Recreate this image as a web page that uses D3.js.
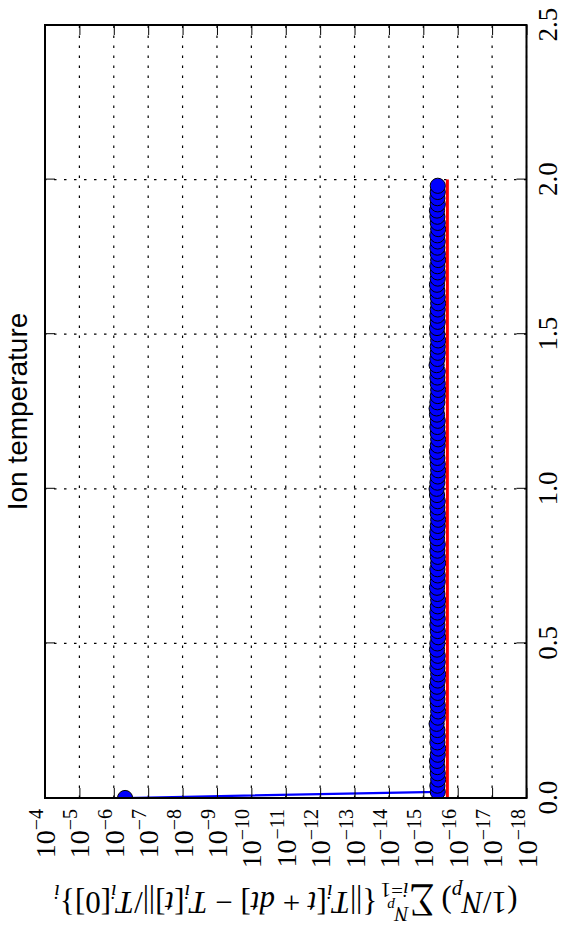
<!DOCTYPE html>
<html>
<head>
<meta charset="utf-8">
<script src="https://cdn.jsdelivr.net/npm/d3@7"></script>
<style>
body { margin: 0; background: #fff; }
</style>
</head>
<body>
<svg id="chart" width="563" height="928"></svg>
<script>
// time of each sample
var times = [
    0.00, 0.02, 0.04, 0.06, 0.08, 0.10, 0.12, 0.14, 0.16, 0.18,
    0.20, 0.22, 0.24, 0.26, 0.28, 0.30, 0.32, 0.34, 0.36, 0.38,
    0.40, 0.42, 0.44, 0.46, 0.48, 0.50, 0.52, 0.54, 0.56, 0.58,
    0.60, 0.62, 0.64, 0.66, 0.68, 0.70, 0.72, 0.74, 0.76, 0.78,
    0.80, 0.82, 0.84, 0.86, 0.88, 0.90, 0.92, 0.94, 0.96, 0.98,
    1.00, 1.02, 1.04, 1.06, 1.08, 1.10, 1.12, 1.14, 1.16, 1.18,
    1.20, 1.22, 1.24, 1.26, 1.28, 1.30, 1.32, 1.34, 1.36, 1.38,
    1.40, 1.42, 1.44, 1.46, 1.48, 1.50, 1.52, 1.54, 1.56, 1.58,
    1.60, 1.62, 1.64, 1.66, 1.68, 1.70, 1.72, 1.74, 1.76, 1.78,
    1.80, 1.82, 1.84, 1.86, 1.88, 1.90, 1.92, 1.94, 1.96, 1.98
];

// relative change of the ion temperature per step
var errors = [
    4.7e-7, 3.8e-16, 3.9e-16, 3.7e-16, 3.8e-16, 3.9e-16, 4.0e-16, 3.8e-16, 3.7e-16, 3.9e-16,
    3.8e-16, 3.9e-16, 4.1e-16, 3.8e-16, 3.7e-16, 3.8e-16, 3.9e-16, 3.8e-16, 4.0e-16, 3.8e-16,
    3.7e-16, 3.9e-16, 3.8e-16, 3.8e-16, 4.0e-16, 3.9e-16, 3.7e-16, 3.8e-16, 3.9e-16, 3.8e-16,
    3.9e-16, 3.8e-16, 3.7e-16, 3.9e-16, 4.0e-16, 3.8e-16, 3.8e-16, 3.9e-16, 3.7e-16, 3.8e-16,
    3.9e-16, 3.8e-16, 4.0e-16, 3.9e-16, 3.8e-16, 3.7e-16, 3.8e-16, 3.9e-16, 3.8e-16, 4.0e-16,
    4.1e-16, 3.9e-16, 3.8e-16, 3.7e-16, 3.8e-16, 3.9e-16, 4.0e-16, 3.8e-16, 3.7e-16, 3.8e-16,
    3.9e-16, 3.8e-16, 4.0e-16, 4.1e-16, 3.9e-16, 3.8e-16, 3.7e-16, 3.8e-16, 3.9e-16, 3.8e-16,
    4.1e-16, 3.9e-16, 3.8e-16, 3.8e-16, 3.7e-16, 3.9e-16, 4.0e-16, 3.8e-16, 3.9e-16, 3.8e-16,
    3.7e-16, 3.8e-16, 3.9e-16, 4.0e-16, 3.8e-16, 3.8e-16, 3.9e-16, 3.7e-16, 3.8e-16, 3.9e-16,
    3.8e-16, 3.9e-16, 3.7e-16, 3.8e-16, 3.9e-16, 4.0e-16, 3.8e-16, 3.9e-16, 3.8e-16, 3.8e-16
];

// red reference level
var refTimes = [0.0, 2.0];
var refErrors = [2.0e-16, 2.0e-16];

var timeTicks = [0.0, 0.5, 1.0, 1.5, 2.0, 2.5];
var timeTickLabels = ["0.0", "0.5", "1.0", "1.5", "2.0", "2.5"];
var decadeExponents = [-4, -5, -6, -7, -8, -9, -10, -11, -12, -13, -14, -15, -16, -17, -18];

// the plot is laid out upright (928 wide, 563 tall) and then turned a quarter turn
var W = 928;
var plotLeft = 130, plotRight = 903, plotTop = 45, plotBottom = 526.5;
var serif = "'Liberation Serif', 'DejaVu Serif', serif";

var svg = d3.select('#chart');
var g = svg.append('g').attr('transform', 'translate(0,' + W + ') rotate(-90)');

var x = d3.scaleLinear([0, 2.5], [plotLeft, plotRight]);
var y = d3.scaleLog([1e-18, 1e-4], [plotBottom, plotTop]);
var decades = decadeExponents.map(e => Math.pow(10, e));

g.append('clipPath').attr('id', 'plot-clip')
    .append('rect')
    .attr('x', plotLeft).attr('y', plotTop)
    .attr('width', plotRight - plotLeft).attr('height', plotBottom - plotTop);

// grid
var grid = g.append('g').attr('stroke', '#000').attr('stroke-width', 1.2)
    .attr('stroke-dasharray', '2.5,7.5');
grid.selectAll('.gx').data(timeTicks).enter().append('line')
    .attr('x1', d => x(d)).attr('x2', d => x(d))
    .attr('y1', plotBottom).attr('y2', plotTop);
grid.selectAll('.gy').data(decades).enter().append('line')
    .attr('x1', plotLeft).attr('x2', plotRight)
    .attr('y1', d => y(d)).attr('y2', d => y(d));

// data
var plot = g.append('g').attr('clip-path', 'url(#plot-clip)');
var points = times.map((t, i) => [t, errors[i]]);

plot.append('path')
    .datum(points)
    .attr('fill', 'none')
    .attr('stroke', '#0000ff')
    .attr('stroke-width', 2.2)
    .attr('d', d3.line().x(d => x(d[0])).y(d => y(d[1])));

plot.selectAll('circle').data(points).enter().append('circle')
    .attr('cx', d => x(d[0]))
    .attr('cy', d => y(d[1]))
    .attr('r', 7.6)
    .attr('fill', '#0000ff')
    .attr('stroke', '#000')
    .attr('stroke-width', 1);

plot.append('path')
    .datum(refTimes.map((t, i) => [t, refErrors[i]]))
    .attr('fill', 'none')
    .attr('stroke', '#ff0000')
    .attr('stroke-width', 3)
    .attr('d', d3.line().x(d => x(d[0])).y(d => y(d[1])));

// axes, ticks pointing inward on all four sides
var xAxis = d3.axisBottom(x).tickValues(timeTicks)
    .tickFormat((d, i) => timeTickLabels[i])
    .tickSizeInner(-10).tickSizeOuter(0).tickPadding(0);
var xg = g.append('g').attr('transform', 'translate(0,' + plotBottom + ')').call(xAxis);
xg.selectAll('text')
    .attr('y', 30.5)
    .attr('dy', 0)
    .style('font-family', serif)
    .style('font-size', '27px')
    .attr('fill', '#000');

g.append('g').attr('transform', 'translate(0,' + plotTop + ')')
    .call(d3.axisTop(x).tickValues(timeTicks).tickFormat('')
        .tickSizeInner(-10).tickSizeOuter(0));

g.append('g').attr('transform', 'translate(' + plotLeft + ',0)')
    .call(d3.axisLeft(y).tickValues(decades).tickFormat('')
        .tickSizeInner(-10).tickSizeOuter(0));
g.append('g').attr('transform', 'translate(' + plotRight + ',0)')
    .call(d3.axisRight(y).tickValues(decades).tickFormat('')
        .tickSizeInner(-10).tickSizeOuter(0));

g.selectAll('.domain').remove();
g.selectAll('.tick line').attr('stroke', '#000').attr('stroke-width', 1);

// log labels as 10^n
var ylab = g.append('g').selectAll('text').data(decadeExponents).enter().append('text')
    .attr('x', plotLeft - 11)
    .attr('y', d => y(Math.pow(10, d)) + 10)
    .attr('text-anchor', 'end')
    .style('font-family', serif)
    .style('font-size', '28px');
ylab.append('tspan').text('10');
ylab.append('tspan')
    .attr('dy', -12)
    .style('font-size', '20px')
    .text(d => '\u2212' + Math.abs(d));

// frame
g.append('rect')
    .attr('x', plotLeft).attr('y', plotTop)
    .attr('width', plotRight - plotLeft).attr('height', plotBottom - plotTop)
    .attr('fill', 'none').attr('stroke', '#000').attr('stroke-width', 2);

// title
g.append('text')
    .attr('x', (plotLeft + plotRight) / 2)
    .attr('y', 27)
    .attr('text-anchor', 'middle')
    .style('font-family', "'Liberation Sans', Arial, sans-serif")
    .style('font-size', '28px')
    .text('Ion temperature');

// y label: (1/N_p) sum_{i=1}^{N_p} {||T_i[t+dt] - T_i[t]||/T_i[0]}_i
var label = g.append('text')
    .attr('transform', 'translate(36,' + ((plotTop + plotBottom) / 2) + ') rotate(-90)')
    .attr('text-anchor', 'middle')
    .style('font-family', serif)
    .style('font-size', '31px');

var shift = 0;
function piece(txt, opts) {
    opts = opts || {};
    var level = opts.level || 0;
    var ts = label.append('tspan').text(txt);
    ts.attr('dy', level - shift);
    shift = level;
    if (opts.italic) ts.style('font-style', 'italic');
    if (opts.size) ts.style('font-size', opts.size + 'px');
    if (opts.dx) ts.attr('dx', opts.dx);
    return ts;
}
var sub = 7, sup = -13, small = 21;

piece('(1/');
piece('N', {italic: true});
piece('p', {italic: true, level: sub, size: small});
piece(')');
piece('\u2211', {dx: 7, size: 36});
var s1 = piece('i', {italic: true, level: sub + 2, size: small});
var s2 = piece('=1', {level: sub + 2, size: small});
var subWidth = s1.node().getComputedTextLength() + s2.node().getComputedTextLength();
piece('N', {italic: true, level: sup - 2, size: small, dx: -subWidth});
piece('p', {italic: true, level: sup + 4, size: 15});
piece('{||', {dx: 10});
piece('T', {italic: true});
piece('i', {italic: true, level: sub, size: small});
piece('[');
piece('t', {italic: true});
piece('  +  ');
piece('dt', {italic: true});
piece(']');
piece('  \u2212  ');
piece('T', {italic: true});
piece('i', {italic: true, level: sub, size: small});
piece('[');
piece('t', {italic: true});
piece(']||/');
piece('T', {italic: true});
piece('i', {italic: true, level: sub, size: small});
piece('[0]}');
piece('i', {italic: true, level: sub, size: small});
</script>
</body>
</html>
